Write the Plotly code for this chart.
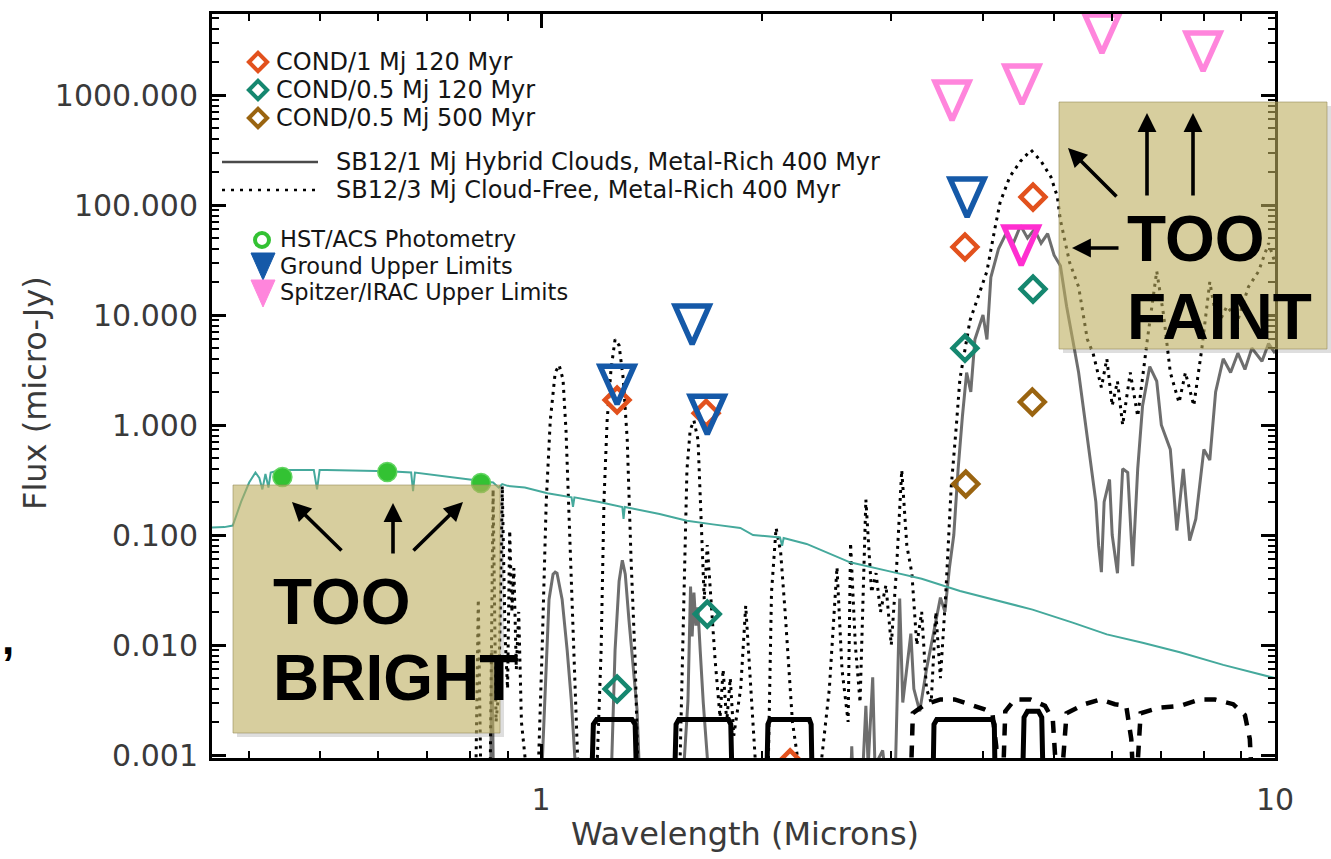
import numpy as np
import plotly.graph_objects as go

# ---------------------------------------------------------------
# Figure geometry
# ---------------------------------------------------------------
FIG_W, FIG_H = 1331, 859
M_L, M_R, M_T, M_B = 212, 56, 14, 101
PLOT_W = FIG_W - M_L - M_R
PLOT_H = FIG_H - M_T - M_B

X_RANGE = [np.log10(0.356), 1.0]          # log10(microns)
Y_RANGE = [np.log10(0.00094), np.log10(5450)]  # log10(micro-Jy)

# ---------------------------------------------------------------
# Photometry / model points
# ---------------------------------------------------------------
hst_wl = [0.444, 0.617, 0.828]
hst_flux = [0.337, 0.374, 0.297]

ground_wl = [1.269, 1.606, 1.684, 3.806]
ground_flux = [2.3, 8.1, 1.23, 116.0]

irac_wl = [3.63, 4.52, 5.81, 7.98]
irac_flux = [882.0, 1233.0, 3590.0, 2460.0]

irac2_wl = [4.51]
irac2_flux = [42.4]

cond1_120_wl = [1.269, 1.678, 2.184, 3.78, 4.68]
cond1_120_flux = [1.69, 1.28, 0.00085, 41.5, 118.0]

cond05_120_wl = [1.269, 1.684, 3.78, 4.68]
cond05_120_flux = [0.00398, 0.0191, 5.0, 17.2]

cond05_500_wl = [3.79, 4.67]
cond05_500_flux = [0.291, 1.62]

# Stellar photosphere (teal)
star_wl = [0.356, 0.37, 0.38, 0.39, 0.40, 0.408, 0.413, 0.417, 0.421, 0.425,
           0.428, 0.435, 0.45, 0.49, 0.495, 0.499, 0.51, 0.56, 0.62, 0.665,
           0.669, 0.673, 0.72, 0.80, 0.86, 0.875, 0.885, 0.90, 0.95, 1.02,
           1.10, 1.105, 1.11, 1.20, 1.29, 1.295, 1.30, 1.45, 1.58, 1.714,
           1.868, 1.944, 2.116, 2.13, 2.14, 2.30, 2.636, 3.016, 3.30, 3.722,
           4.20, 4.673, 5.30, 5.90, 6.60, 7.42, 8.50, 10.0]
star_flux = [0.117, 0.118, 0.122, 0.20, 0.30, 0.37, 0.33, 0.26, 0.36, 0.27,
             0.37, 0.38, 0.39, 0.39, 0.26, 0.39, 0.39, 0.385, 0.38, 0.37,
             0.25, 0.37, 0.35, 0.32, 0.30, 0.27, 0.29, 0.28, 0.27, 0.24,
             0.22, 0.18, 0.22, 0.20, 0.18, 0.14, 0.18, 0.155, 0.135, 0.125,
             0.116, 0.10, 0.095, 0.08, 0.094, 0.083, 0.0565, 0.046, 0.04, 0.031,
             0.025, 0.021, 0.016, 0.0125, 0.0105, 0.0086, 0.0066, 0.005]

# SB12 1 Mj hybrid clouds, metal-rich, 400 Myr (grey solid)
sb1_wl = [0.356, 0.845, 0.853, 0.857, 0.861, 0.99, 1.0, 1.013, 1.025, 1.038,
          1.045, 1.051, 1.068, 1.085, 1.099, 1.112, 1.12, 1.24, 1.248, 1.261,
          1.277, 1.29, 1.302, 1.317, 1.335, 1.351, 1.36, 1.37, 1.55, 1.565,
          1.585, 1.598, 1.606, 1.615, 1.625, 1.635, 1.647, 1.663, 1.69, 1.70,
          2.62, 2.65, 2.67, 2.74, 2.77, 2.79, 2.83, 2.85, 2.92, 2.95,
          3.04, 3.08, 3.11, 3.15, 3.19, 3.22, 3.28, 3.35, 3.42, 3.50,
          3.55, 3.60, 3.65, 3.70, 3.75, 3.80, 3.85, 3.90, 4.00, 4.05,
          4.10, 4.20, 4.30, 4.40, 4.50, 4.60, 4.70, 4.80, 4.90, 5.00,
          5.10, 5.20, 5.30, 5.40, 5.50, 5.60, 5.70, 5.75, 5.80, 5.85,
          5.95, 6.00, 6.10, 6.20, 6.30, 6.40, 6.50, 6.60, 6.75, 6.90,
          7.00, 7.20, 7.35, 7.50, 7.65, 7.80, 8.00, 8.15, 8.30, 8.50,
          8.70, 8.90, 9.10, 9.30, 9.60, 9.80, 10.0]
sb1_flux = [1e-4, 1e-4, 5e-4, 0.009, 5e-4, 1e-4, 5e-4, 0.0048, 0.026, 0.044,
            0.046, 0.045, 0.026, 0.009, 0.0032, 0.0009, 1e-4, 1e-4, 0.0009, 0.009,
            0.038, 0.059, 0.044, 0.017, 0.0067, 0.0026, 0.0008, 1e-4, 1e-4, 0.0008,
            0.0031, 0.034, 0.012, 0.030, 0.015, 0.022, 0.009, 0.003, 0.0007, 1e-4,
            1e-4, 0.0012, 0.0003, 0.0006, 0.0028, 0.0008, 0.0051, 0.0008, 0.0011, 0.0006,
            0.0008, 0.0265, 0.003, 0.006, 0.0127, 0.004, 0.0025, 0.006, 0.012, 0.027,
            0.02, 0.05, 0.10, 0.40, 1.2, 3.0, 2.0, 6.0, 10.0, 6.0,
            22.0, 40.0, 55.0, 45.0, 65.0, 50.0, 60.0, 45.0, 55.0, 35.0,
            28.0, 12.0, 6.0, 3.0, 1.2, 0.5, 0.2, 0.08, 0.046, 0.2,
            0.32, 0.1, 0.045, 0.4, 0.37, 0.052, 0.4, 1.5, 3.4, 2.5,
            1.0, 0.6, 0.11, 0.4, 0.089, 0.14, 0.6, 0.48, 2.0, 4.0,
            3.0, 4.5, 3.2, 5.0, 3.8, 5.5, 4.5]

# SB12 3 Mj cloud-free, metal-rich, 400 Myr (black dotted)
sb3_wl = [0.356, 0.805, 0.815, 0.821, 0.827, 0.852, 0.86, 0.868, 0.876, 0.885,
          0.893, 0.90, 0.906, 0.912, 0.918, 0.925, 0.932, 0.94, 0.96, 0.99,
          1.003, 1.016, 1.029, 1.045, 1.058, 1.071, 1.081, 1.095, 1.109, 1.123,
          1.19, 1.207, 1.218, 1.23, 1.245, 1.261, 1.277, 1.294, 1.31, 1.326,
          1.343, 1.355, 1.545, 1.566, 1.58, 1.596, 1.615, 1.636, 1.652, 1.668,
          1.684, 1.704, 1.726, 1.753, 1.77, 1.79, 1.81, 1.83, 1.87, 1.90,
          1.93, 1.96, 2.00, 2.04, 2.06, 2.09, 2.12, 2.15, 2.20, 2.25,
          2.40, 2.47, 2.53, 2.57, 2.62, 2.64, 2.68, 2.72, 2.77, 2.82,
          2.86, 2.90, 2.95, 3.00, 3.05, 3.10, 3.15, 3.20, 3.25, 3.30,
          3.35, 3.40, 3.45, 3.50, 3.56, 3.62, 3.68, 3.72, 3.84, 4.00,
          4.05, 4.15, 4.22, 4.35, 4.50, 4.65, 4.80, 4.95, 5.05, 5.10,
          5.25, 5.40, 5.55, 5.65, 5.80, 5.90, 6.00, 6.10, 6.20, 6.35,
          6.50, 6.70, 6.90, 7.05, 7.20, 7.40, 7.55, 7.75, 7.95, 8.15,
          8.35, 8.60, 8.90, 9.20, 9.50, 9.80, 10.0]
sb3_flux = [1e-4, 1e-4, 0.0008, 0.026, 0.0008, 0.0006, 0.26, 0.002, 0.004, 0.28,
            0.012, 0.004, 0.11, 0.02, 0.05, 0.006, 0.02, 0.002, 0.0005, 0.0006,
            0.009, 0.2, 1.1, 3.0, 3.5, 2.6, 0.9, 0.073, 0.009, 0.0007,
            0.0006, 0.009, 0.21, 1.1, 3.2, 6.0, 5.3, 2.6, 0.74, 0.059,
            0.0073, 0.0007, 0.0007, 0.026, 0.39, 0.9, 1.1, 0.73, 0.14, 0.026,
            0.081, 0.026, 0.0073, 0.0022, 0.006, 0.002, 0.005, 0.0015, 0.004, 0.0227,
            0.004, 0.0008, 0.0006, 0.0009, 0.03, 0.116, 0.07, 0.02, 0.002, 0.0007,
            0.0007, 0.004, 0.051, 0.006, 0.002, 0.085, 0.01, 0.003, 0.21, 0.03,
            0.045, 0.02, 0.035, 0.01, 0.05, 0.39, 0.08, 0.045, 0.01, 0.02,
            0.004, 0.003, 0.02, 0.005, 0.03, 0.27, 1.0, 2.6, 8.9, 20.0,
            25.0, 60.0, 105.0, 180.0, 250.0, 316.0, 250.0, 180.0, 120.0, 73.0,
            30.0, 18.0, 6.0, 4.5, 2.2, 4.0, 1.5, 2.5, 1.0, 3.0,
            1.2, 6.0, 25.0, 10.0, 3.0, 1.6, 3.0, 1.5, 5.0, 20.0,
            8.0, 12.0, 9.0, 18.0, 25.0, 45.0, 30.0]

# Filter transmission outlines (ground J, H, K, L', M)
filt_j_wl = [1.172, 1.178, 1.19, 1.33, 1.343, 1.349]
filt_j_val = [0.0006, 0.0019, 0.0021, 0.0021, 0.0019, 0.0006]
filt_h_wl = [1.52, 1.527, 1.54, 1.80, 1.813, 1.82]
filt_h_val = [0.0006, 0.0019, 0.0021, 0.0021, 0.0019, 0.0006]
filt_k_wl = [2.03, 2.037, 2.05, 2.32, 2.333, 2.34]
filt_k_val = [0.0006, 0.0019, 0.0021, 0.0021, 0.0019, 0.0006]
filt_l_wl = [3.42, 3.43, 3.46, 4.12, 4.145, 4.155]
filt_l_val = [0.0006, 0.0019, 0.0021, 0.0021, 0.0019, 0.0006]
filt_m_wl = [4.53, 4.55, 4.60, 4.76, 4.81, 4.83]
filt_m_val = [0.0006, 0.0022, 0.0025, 0.0025, 0.0022, 0.0006]

# IRAC channel responses (dashed)
irac_ch1_wl = [3.19, 3.21, 3.34, 3.50, 3.66, 3.84, 4.02, 4.12, 4.17, 4.18]
irac_ch1_val = [0.0006, 0.0024, 0.0029, 0.0032, 0.0032, 0.0029, 0.0026, 0.0024, 0.0012, 0.0006]
irac_ch2_wl = [4.26, 4.29, 4.42, 4.64, 4.86, 4.98, 5.04]
irac_ch2_val = [0.0006, 0.0025, 0.0032, 0.0032, 0.0028, 0.0021, 0.0006]
irac_ch3_wl = [5.12, 5.20, 5.50, 5.78, 6.05, 6.27, 6.37, 6.41]
irac_ch3_val = [0.0006, 0.0024, 0.0029, 0.0032, 0.0029, 0.0028, 0.0014, 0.0006]
irac_ch4_wl = [6.48, 6.56, 6.97, 7.42, 7.90, 8.28, 8.77, 9.10, 9.24, 9.30]
irac_ch4_val = [0.0006, 0.0024, 0.0027, 0.0028, 0.0032, 0.0032, 0.0029, 0.0023, 0.0014, 0.0006]

# Axis ticks
y_tickvals = [0.001, 0.01, 0.1, 1, 10, 100, 1000]
y_ticktext = ["0.001", "0.010", "0.100", "1.000", "10.000", "100.000", "1000.000"]
x_tickvals = [1, 10]
x_ticktext = ["1", "10"]

# Colours
C_ORANGE = "#e2511d"
C_TEAL_D = "#15876f"
C_BROWN = "#9a6410"
C_GREEN = "#33c233"
C_BLUE = "#1559a8"
C_PINK = "#ff85dc"
C_MAGENTA = "#ff2ed0"
C_STAR = "#45a99c"
C_GREY = "#6e6e6e"

PX_PER_DEC_X = PLOT_W / (X_RANGE[1] - X_RANGE[0])
PX_PER_DEC_Y = PLOT_H / (Y_RANGE[1] - Y_RANGE[0])


def down_triangles(wl, flux, half_w=17.0, half_h=19.0):
    """Outline of upper-limit triangles around each (wl, flux) point."""
    dx = half_w / PX_PER_DEC_X
    dy = half_h / PX_PER_DEC_Y
    xs, ys = [], []
    for w, f in zip(wl, flux):
        a = (w * 10 ** -dx, f * 10 ** dy)
        b = (w * 10 ** dx, f * 10 ** dy)
        c = (w, f * 10 ** -dy)
        for p in (a, b, c, a, b):
            xs.append(p[0])
            ys.append(p[1])
        xs.append(None)
        ys.append(None)
    return xs, ys


def px(x):
    return (x - M_L) / PLOT_W


def py(y):
    return (FIG_H - M_B - y) / PLOT_H


fig = go.Figure()

# Model spectra
fig.add_trace(go.Scatter(x=sb1_wl, y=sb1_flux, mode="lines",
                         line=dict(color=C_GREY, width=3), hoverinfo="skip"))
fig.add_trace(go.Scatter(x=sb3_wl, y=sb3_flux, mode="lines",
                         line=dict(color="black", width=3, dash="3px,5px"),
                         hoverinfo="skip"))
fig.add_trace(go.Scatter(x=star_wl, y=star_flux, mode="lines",
                         line=dict(color=C_STAR, width=2), hoverinfo="skip"))

# Filter curves
for fw, fv in [(filt_j_wl, filt_j_val), (filt_h_wl, filt_h_val), (filt_k_wl, filt_k_val),
               (filt_l_wl, filt_l_val), (filt_m_wl, filt_m_val)]:
    fig.add_trace(go.Scatter(x=fw, y=fv, mode="lines",
                             line=dict(color="black", width=5), hoverinfo="skip"))
for fw, fv in [(irac_ch1_wl, irac_ch1_val), (irac_ch2_wl, irac_ch2_val),
               (irac_ch3_wl, irac_ch3_val), (irac_ch4_wl, irac_ch4_val)]:
    fig.add_trace(go.Scatter(x=fw, y=fv, mode="lines",
                             line=dict(color="black", width=4.5, dash="12px,10px"),
                             hoverinfo="skip"))

# COND model photometry
for cw, cf, col in [(cond1_120_wl, cond1_120_flux, C_ORANGE),
                    (cond05_120_wl, cond05_120_flux, C_TEAL_D),
                    (cond05_500_wl, cond05_500_flux, C_BROWN)]:
    fig.add_trace(go.Scatter(x=cw, y=cf, mode="markers",
                             marker=dict(symbol="diamond-open", size=19, color=col,
                                         line=dict(width=4.5, color=col)),
                             hoverinfo="skip"))

# HST detections
fig.add_trace(go.Scatter(x=hst_wl, y=hst_flux, mode="markers",
                         marker=dict(symbol="circle", size=19, color=C_GREEN,
                                     line=dict(width=1.5, color="#62d462")),
                         hoverinfo="skip"))

# Upper limits
for tw, tf, col in [(ground_wl, ground_flux, C_BLUE),
                    (irac_wl, irac_flux, C_PINK),
                    (irac2_wl, irac2_flux, C_MAGENTA)]:
    tx, ty = down_triangles(tw, tf)
    fig.add_trace(go.Scatter(x=tx, y=ty, mode="lines",
                             line=dict(color=col, width=5.5), hoverinfo="skip"))

# ---------------------------------------------------------------
# Legend drawn on an overlay in plot-area pixel units
# ---------------------------------------------------------------
leg_diamonds = [(46, 48, C_ORANGE, "COND/1 Mj 120 Myr"),
                (46, 76, C_TEAL_D, "COND/0.5 Mj 120 Myr"),
                (46, 104, C_BROWN, "COND/0.5 Mj 500 Myr")]
for lx, ly, col, _ in leg_diamonds:
    fig.add_trace(go.Scatter(x=[lx], y=[ly], xaxis="x2", yaxis="y2", mode="markers",
                             marker=dict(symbol="diamond-open", size=14, color=col,
                                         line=dict(width=4, color=col)),
                             hoverinfo="skip"))
fig.add_trace(go.Scatter(x=[10, 106], y=[148, 148], xaxis="x2", yaxis="y2", mode="lines",
                         line=dict(color="#4a4a4a", width=2.5), hoverinfo="skip"))
fig.add_trace(go.Scatter(x=[10, 106], y=[176, 176], xaxis="x2", yaxis="y2", mode="lines",
                         line=dict(color="black", width=2.5, dash="3px,6px"), hoverinfo="skip"))
fig.add_trace(go.Scatter(x=[50], y=[226], xaxis="x2", yaxis="y2", mode="markers",
                         marker=dict(symbol="circle-open", size=14, color=C_GREEN,
                                     line=dict(width=4, color=C_GREEN)),
                         hoverinfo="skip"))
for top, col in [(239, C_BLUE), (266, C_PINK)]:
    fig.add_trace(go.Scatter(x=[39, 63, 51, 39], y=[top, top, top + 27, top],
                             xaxis="x2", yaxis="y2", mode="lines", fill="toself",
                             fillcolor=col, line=dict(color=col, width=1), hoverinfo="skip"))

LEG_FONT = dict(family="DejaVu Sans", size=24, color="#151515")
LEG_FONT_SM = dict(family="DejaVu Sans", size=22.5, color="#151515")
annotations = []
for lx, ly, col, label in leg_diamonds:
    annotations.append(dict(x=62, y=ly, xref="x2", yref="y2", text=label, showarrow=False,
                            xanchor="left", yanchor="middle", font=LEG_FONT))
for ly, label in [(148, "SB12/1 Mj Hybrid Clouds, Metal-Rich 400 Myr"),
                  (176, "SB12/3 Mj Cloud-Free, Metal-Rich 400 Myr")]:
    annotations.append(dict(x=122, y=ly, xref="x2", yref="y2", text=label, showarrow=False,
                            xanchor="left", yanchor="middle", font=LEG_FONT))
for ly, label in [(225, "HST/ACS Photometry"), (251.5, "Ground Upper Limits"),
                  (278, "Spitzer/IRAC Upper Limits")]:
    annotations.append(dict(x=66, y=ly, xref="x2", yref="y2", text=label, showarrow=False,
                            xanchor="left", yanchor="middle", font=LEG_FONT_SM))

# Axis titles
annotations.append(dict(x=px(745), y=py(834), xref="paper", yref="paper",
                        xanchor="center", yanchor="middle",
                        text="Wavelength (Microns)", showarrow=False,
                        font=dict(family="DejaVu Sans", size=32, color="#3a3a3a")))
annotations.append(dict(x=px(35), y=py(393), xref="paper", yref="paper",
                        xanchor="center", yanchor="middle",
                        text="Flux (micro-Jy)", showarrow=False, textangle=-90,
                        font=dict(family="DejaVu Sans", size=32, color="#3a3a3a")))

# Call-out boxes
BOX_FILL = "rgba(188,173,93,0.6)"
SHADOW = "rgba(0,0,0,0.13)"
shapes = []
for (x0, y0, x1, y1) in [(233, 485, 500, 733), (1059, 102, 1327, 349)]:
    shapes.append(dict(type="rect", xref="paper", yref="paper", x0=px(x1), x1=px(x1 + 4),
                       y0=py(y1 + 4), y1=py(y0 + 4), fillcolor=SHADOW, line=dict(width=0),
                       layer="above"))
    shapes.append(dict(type="rect", xref="paper", yref="paper", x0=px(x0 + 4), x1=px(x1),
                       y0=py(y1 + 4), y1=py(y1), fillcolor=SHADOW, line=dict(width=0),
                       layer="above"))
    shapes.append(dict(type="rect", xref="paper", yref="paper", x0=px(x0), x1=px(x1),
                       y0=py(y1), y1=py(y0), fillcolor=BOX_FILL,
                       line=dict(color="rgba(150,140,90,0.6)", width=1), layer="above"))

BIG = dict(family="Liberation Sans", size=64, color="black")
for text, x, y in [("TOO", 271, 602), ("BRIGHT", 271, 678), ("TOO", 1125, 239), ("FAINT", 1125, 317)]:
    annotations.append(dict(x=px(x), y=py(y), xref="paper", yref="paper", text="<b>%s</b>" % text,
                            showarrow=False, xanchor="left", yanchor="middle", font=BIG))

# Arrows: (tip_x, tip_y, tail_x, tail_y)
for tx, ty, sx, sy in [(292, 502, 343, 552), (393, 503, 393, 555), (463, 502, 412, 552),
                       (1068, 148, 1118, 198), (1147, 113, 1147, 197), (1193, 113, 1193, 197),
                       (1072, 248, 1120, 248)]:
    annotations.append(dict(x=px(tx), y=py(ty), xref="paper", yref="paper", text="",
                            showarrow=True, ax=sx - tx, ay=sy - ty, arrowhead=2,
                            arrowsize=1.05, arrowwidth=3.6, arrowcolor="black", standoff=0))

annotations.append(dict(x=px(8), y=py(638), xref="paper", yref="paper", text="<b>,</b>",
                        xanchor="center", yanchor="middle",
                        showarrow=False, font=dict(family="Liberation Sans", size=44, color="black")))

# Minor tick positions
x_minor = [m * 10 ** e for e in (-1, 0) for m in range(2, 10) if 0.356 <= m * 10 ** e <= 10]
y_minor = [m * 10 ** e for e in range(-4, 4) for m in range(2, 10)
           if 0.00094 <= m * 10 ** e <= 5450]

TICK_FONT = dict(family="DejaVu Sans", size=30, color="#3a3a3a")

fig.update_layout(
    width=FIG_W, height=FIG_H,
    margin=dict(l=M_L, r=M_R, t=M_T, b=M_B),
    paper_bgcolor="white", plot_bgcolor="white",
    showlegend=False,
    xaxis=dict(type="log", range=X_RANGE, tickmode="array", tickvals=x_tickvals,
               ticktext=x_ticktext, ticks="inside", ticklen=14, tickwidth=2.5,
               tickcolor="black", showline=True, linewidth=3, linecolor="black",
               mirror="allticks", showgrid=False, zeroline=False, tickfont=TICK_FONT,
               ticklabelstandoff=13,
               minor=dict(tickmode="array", tickvals=x_minor, ticks="inside",
                          ticklen=7, tickwidth=2, tickcolor="black", showgrid=False)),
    yaxis=dict(type="log", range=Y_RANGE, tickmode="array", tickvals=y_tickvals,
               ticktext=y_ticktext, ticks="inside", ticklen=14, tickwidth=2.5,
               tickcolor="black", showline=True, linewidth=3, linecolor="black",
               mirror="allticks", showgrid=False, zeroline=False, tickfont=TICK_FONT,
               ticklabelstandoff=5,
               minor=dict(tickmode="array", tickvals=y_minor, ticks="inside",
                          ticklen=7, tickwidth=2, tickcolor="black", showgrid=False)),
    xaxis2=dict(overlaying="x", range=[0, PLOT_W], visible=False, anchor="y2",
                fixedrange=True),
    yaxis2=dict(overlaying="y", range=[PLOT_H, 0], visible=False, anchor="x2",
                fixedrange=True),
    shapes=shapes,
    annotations=annotations,
)

fig.write_html("out.html")
